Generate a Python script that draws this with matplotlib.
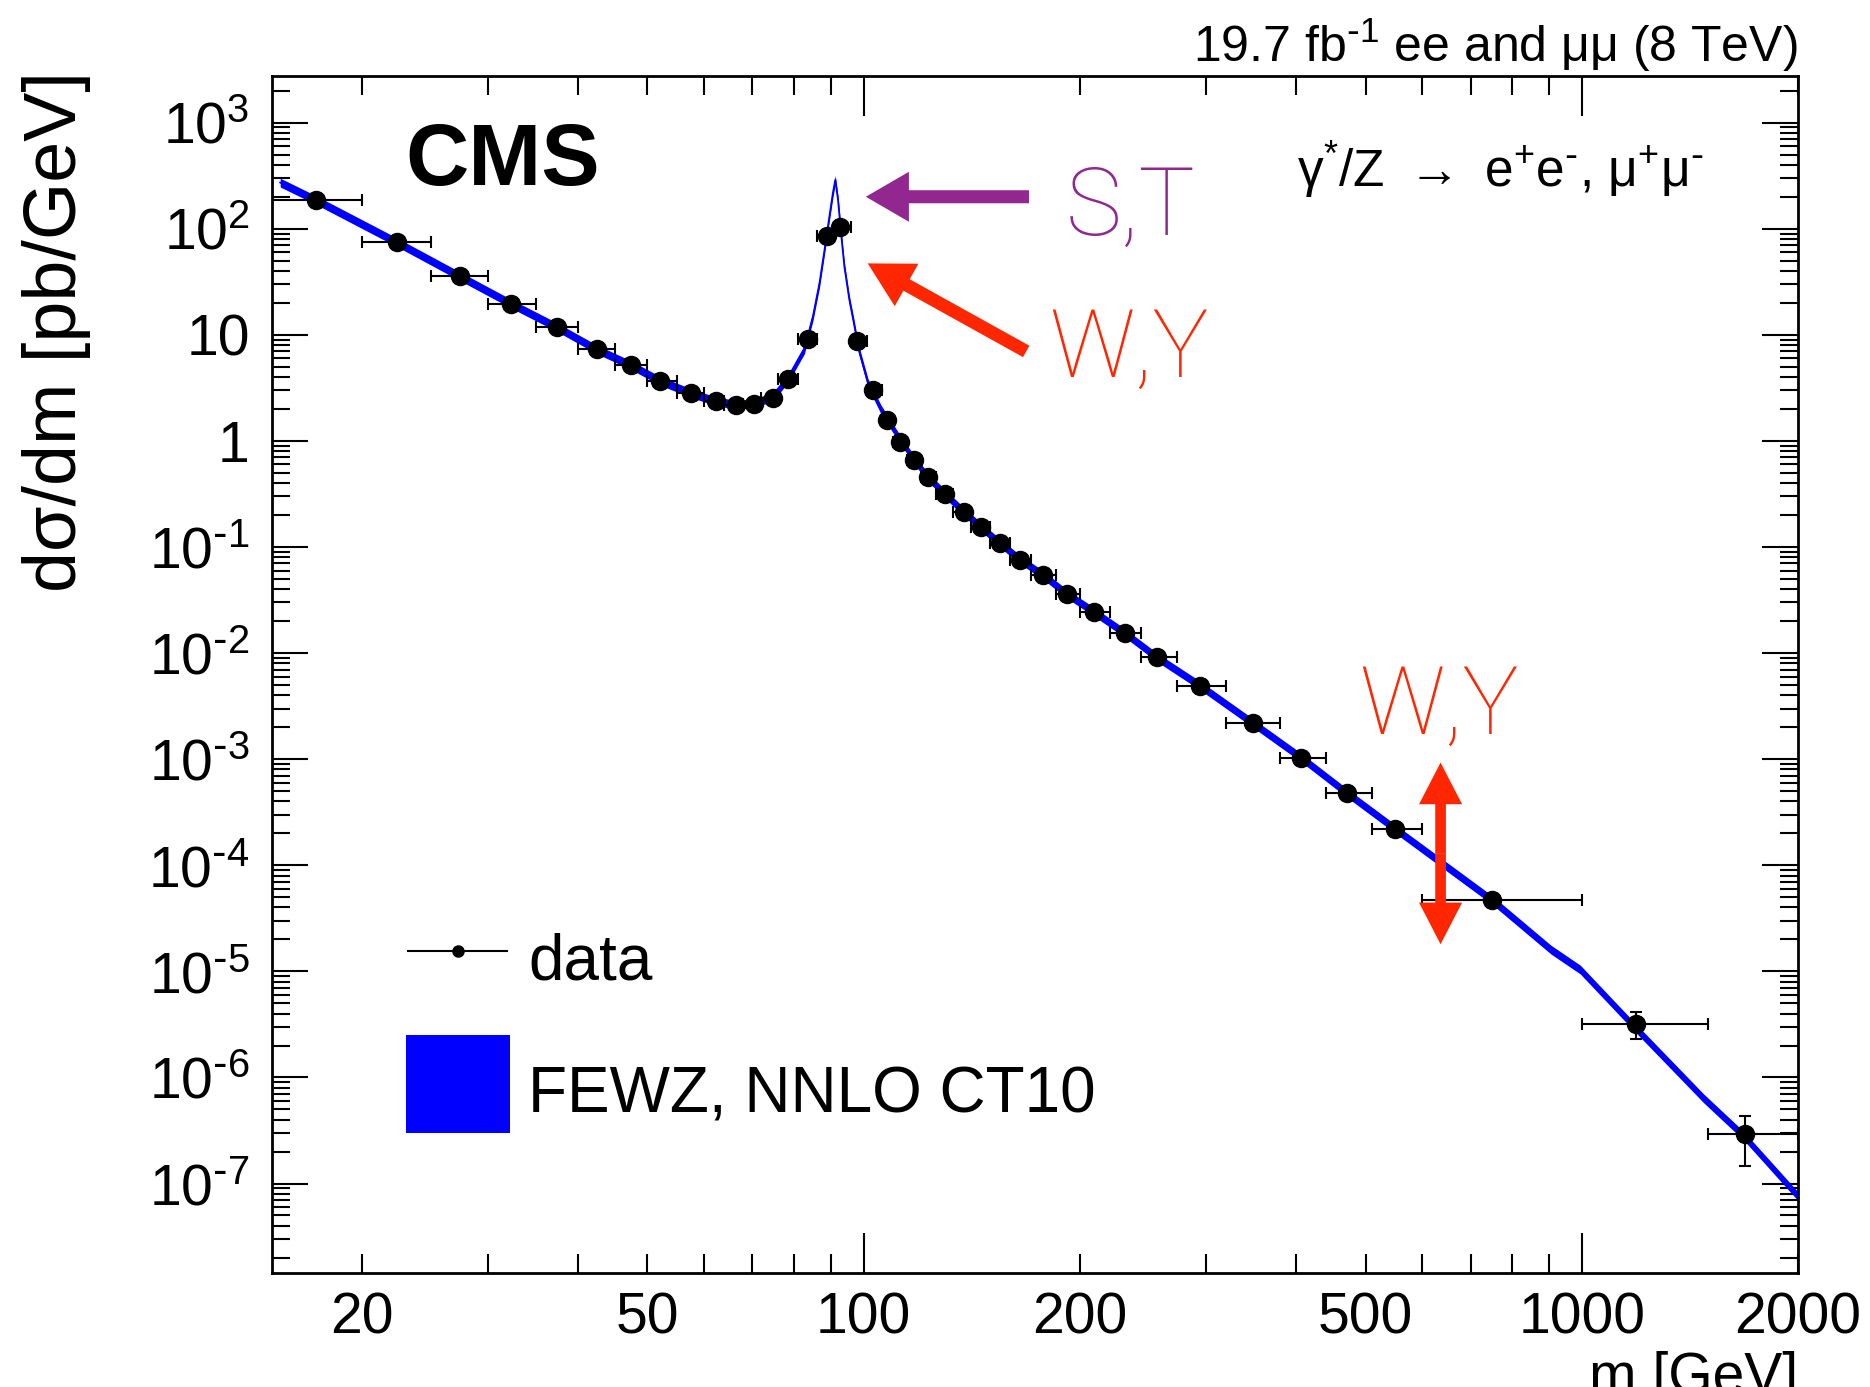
import numpy as np
import matplotlib
matplotlib.use('Agg')
from matplotlib import pyplot as plt
from matplotlib.ticker import LogLocator, FuncFormatter, NullFormatter
from matplotlib.patches import Rectangle

plt.rcParams['font.family'] = ['Liberation Sans', 'DejaVu Sans']
plt.rcParams['mathtext.default'] = 'regular'

# mass bins [GeV]
bin_edges = [15, 20, 25, 30, 35, 40, 45, 50, 55, 60, 64, 68, 72, 76, 81, 86, 91, 96, 101, 106,
             110, 115, 120, 126, 133, 141, 150, 160, 171, 185, 200, 220, 243, 273, 320, 380,
             440, 510, 600, 1000, 1500, 2000]

# measured points (position in bin, dsigma/dm in pb/GeV)
mass = [17.3, 22.4, 27.4, 32.3, 37.4, 42.5, 47.5, 52.1, 57.4, 62.2, 66.4, 70.3, 74.7, 78.5,
        83.7, 88.9, 92.8, 97.9, 103.1, 107.7, 112.2, 117.5, 123.0, 129.9, 137.9, 145.9,
        154.7, 165.2, 177.8, 192.0, 209.4, 231.5, 256, 294, 348, 407, 471, 549, 750, 1191, 1687]
xsec = [185, 74.3, 35.6, 19.6, 11.8, 7.28, 5.14, 3.67, 2.83, 2.36, 2.19, 2.24, 2.55, 3.85,
        9.03, 86, 104, 8.7, 3.01, 1.57, 0.977, 0.667, 0.452, 0.315, 0.214, 0.153,
        0.109, 0.076, 0.0543, 0.036, 0.0244, 0.0153, 9.14e-3, 4.94e-3, 2.2e-3, 1.03e-3,
        4.8e-4, 2.22e-4, 4.7e-5, 3.2e-6, 2.9e-7]
xsec_err = [0] * 38 + [2.0e-6, 0.9e-6, 1.45e-7]

# FEWZ NNLO CT10 prediction
fewz_m = [15.4, 17.3, 22.4, 27.4, 32.3, 37.4, 42.5, 47.5, 52.1, 57.4, 62.2, 66.4, 70.3, 74.7,
          78.5, 82.7, 85.0, 86.8, 88.2, 89.6, 90.6, 91.3, 92.1, 93.0, 94.0, 95.5, 97.1, 98.4,
          101.4, 105.7, 111.6, 117.5, 123.0, 129.9, 137.9, 145.9, 154.7, 165.2, 177.8, 192.0,
          209.4, 231.5, 256, 294, 348, 407, 471, 549, 750, 906, 995, 1185, 1478, 1681, 2000]
fewz_xsec = [272, 185, 74.3, 35.6, 19.6, 11.8, 7.28, 5.14, 3.67, 2.83, 2.36, 2.19, 2.26, 2.6,
             3.9, 7.3, 15.0, 30.8, 63, 131, 217, 289, 187, 91, 44, 21.5, 12.0, 7.3,
             3.5, 1.98, 1.11, 0.667, 0.452, 0.315, 0.214, 0.153, 0.109, 0.076, 0.0543, 0.036,
             0.0244, 0.0153, 9.14e-3, 4.94e-3, 2.2e-3, 1.03e-3, 4.8e-4, 2.22e-4, 4.7e-5,
             1.6e-5, 1.04e-5, 2.98e-6, 6.35e-7, 2.81e-7, 7.6e-8]
fewz_band = 1.10

x_labels = [20, 50, 100, 200, 500, 1000, 2000]

purple = '#922790'
red = '#ff2600'

fig = plt.figure(figsize=(18.7, 13.87), dpi=100)
ax = fig.add_axes([0.14545, 0.08255, 0.81604, 0.86266])

lo = np.array(bin_edges[:-1])
hi = np.array(bin_edges[1:])
m = np.array(mass)
fm = np.array(fewz_m)
fx = np.array(fewz_xsec)

ax.fill_between(fm, fx / fewz_band, fx * fewz_band, color='blue', lw=0, zorder=2)
ax.plot(fm, fx, color='blue', lw=1.3, zorder=2)
ax.errorbar(m, xsec, xerr=[m - lo, hi - m], yerr=xsec_err, fmt='o', color='black',
            ms=13, elinewidth=1.5, capsize=4, capthick=1.5, zorder=3)

ax.set_xscale('log')
ax.set_yscale('log')
ax.set_xlim(15, 2000)
ax.set_ylim(1.45e-8, 2750)

ax.xaxis.set_major_locator(LogLocator(base=10, numticks=10))
ax.xaxis.set_minor_locator(LogLocator(base=10, subs=range(2, 10), numticks=50))
ax.xaxis.set_major_formatter(FuncFormatter(lambda v, p: '%d' % round(v)))
ax.xaxis.set_minor_formatter(FuncFormatter(
    lambda v, p: '%d' % round(v) if int(round(v)) in x_labels else ''))

def ylab(v, pos):
    e = int(round(np.log10(v)))
    if e == 0:
        return '1'
    if e == 1:
        return '10'
    if e < 0:
        return '$10^{\\text{-}%d}$' % -e
    return '$10^{%d}$' % e

ax.yaxis.set_major_locator(LogLocator(base=10, numticks=30))
ax.yaxis.set_minor_locator(LogLocator(base=10, subs=range(2, 10), numticks=200))
ax.yaxis.set_major_formatter(FuncFormatter(ylab))
ax.yaxis.set_minor_formatter(NullFormatter())

ax.tick_params(which='both', direction='in', top=True, right=True, width=1.5,
               labelsize=41)
ax.tick_params(axis='x', which='major', length=29, pad=14)
ax.tick_params(axis='x', which='minor', length=14, pad=14)
ax.tick_params(axis='y', which='major', length=26, pad=16)
ax.tick_params(axis='y', which='minor', length=13)
for s in ax.spines.values():
    s.set_linewidth(2)

ax.set_ylabel('d\u03c3/dm [pb/GeV]', fontsize=53, loc='top')
ax.yaxis.set_label_coords(-0.1185, 1.004)
fig.text(0.9615, -0.004, 'm [GeV]', fontsize=41, ha='right', va='baseline')

ax.text(0.0872, 0.909, 'CMS', transform=ax.transAxes, fontsize=63, fontweight='bold')
ax.text(1.0, 1.0117, '19.7 fb$^{\\text{-}1}$ ee and \u03bc\u03bc (8 TeV)',
        transform=ax.transAxes, fontsize=36, ha='right', va='baseline')
ax.text(0.672, 0.907,
        '\u03b3$^{*}$/Z $\\rightarrow$ e$^{+}$e$^{\\text{-}}$, \u03bc$^{+}$\u03bc$^{\\text{-}}$',
        transform=ax.transAxes, fontsize=37, ha='left', va='baseline')

# legend
ax.plot([0.0891, 0.154], [0.2691, 0.2691], transform=ax.transAxes, color='black', lw=1.5)
ax.plot([0.1217], [0.2691], 'o', transform=ax.transAxes, color='black', ms=8)
ax.text(0.1678, 0.2445, 'data', transform=ax.transAxes, fontsize=46)
ax.add_patch(Rectangle((0.0875, 0.1166), 0.0685, 0.0819, transform=ax.transAxes,
                       color='blue', lw=0))
ax.text(0.1678, 0.1336, 'FEWZ, NNLO CT10', transform=ax.transAxes, fontsize=46)

# annotations
lab_font = dict(family=['Roboto', 'Liberation Sans'], weight='light', fontsize=68)
ax.text(0.52, 0.867, 'S,T', transform=ax.transAxes, color=purple, **lab_font)
ax.text(0.5095, 0.7485, 'W,Y', transform=ax.transAxes, color=red, **lab_font)
ax.text(0.7124, 0.4506, 'W,Y', transform=ax.transAxes, color=red, **lab_font)

def arrow(tail, tip, col, tw, hw, hl):
    ax.annotate('', xy=tip, xytext=tail,
                arrowprops=dict(arrowstyle='simple,head_length=%g,head_width=%g,tail_width=%g'
                                % (hl, hw, tw), color=col, lw=0, shrinkA=0, shrinkB=0,
                                mutation_scale=10), zorder=5)

arrow((169.9, 200), (100.7, 200), purple, 0.94, 3.6, 3.1)
arrow((168.4, 6.97), (101.3, 47.1), red, 0.94, 3.5, 3.2)
arrow((635.8, 1.3e-4), (635.8, 9.29e-4), red, 0.77, 3.1, 3.0)
arrow((635.8, 1.3e-4), (635.8, 1.8e-5), red, 0.77, 3.1, 3.0)

plt.savefig('out.png', dpi=100)
